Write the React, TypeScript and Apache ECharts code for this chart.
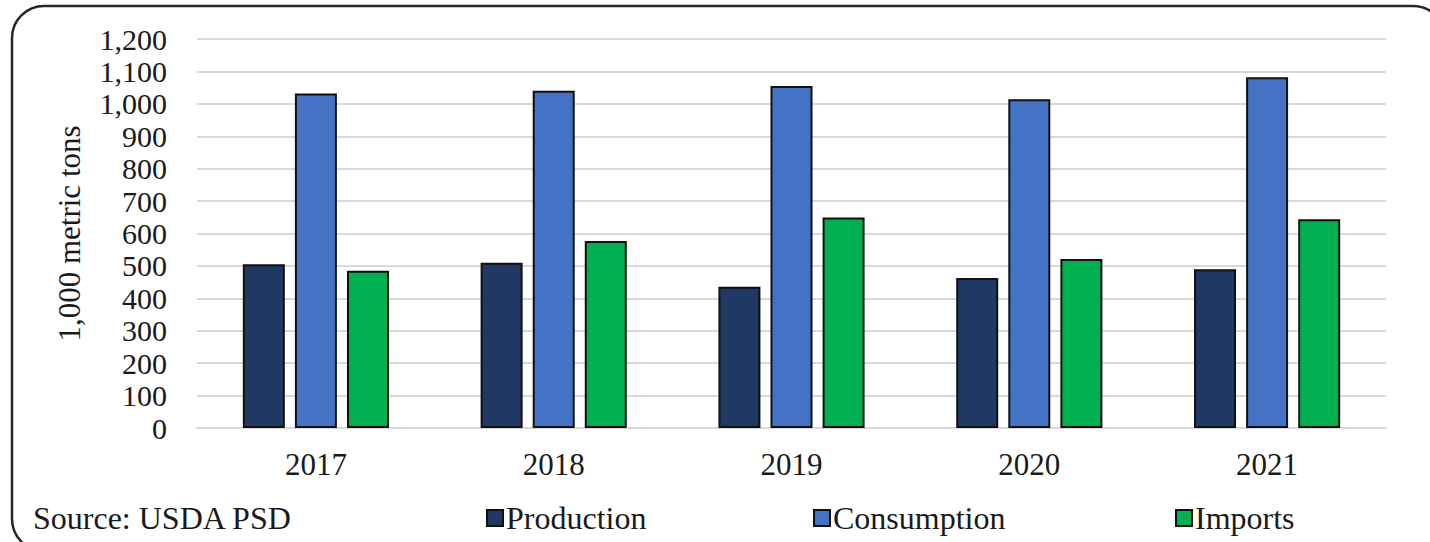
import React, { useEffect, useRef } from "react";
import * as echarts from "echarts";

const categories = ["2017", "2018", "2019", "2020", "2021"];
const production = [505, 510, 436, 463, 490];
const consumption = [1032, 1040, 1055, 1014, 1082];
const imports = [485, 577, 649, 521, 644];
const seriesNames = ["Production", "Consumption", "Imports"];
const seriesColors = ["#203864", "#4472C4", "#00B050"];
const yAxisName = "1,000 metric tons";
const sourceText = "Source: USDA PSD";

const FONT = "'Liberation Serif', 'Times New Roman', serif";

export default function App() {
  const ref = useRef<HTMLDivElement>(null);
  useEffect(() => {
    if (!ref.current) return;
    const chart = echarts.init(ref.current, undefined, { renderer: "svg" });
    const values = [production, consumption, imports];
    const legendLefts = [481, 808, 1170];
    chart.setOption({
      animation: false,
      backgroundColor: "#ffffff",
      textStyle: { fontFamily: FONT },
      grid: { left: 197, right: 44, top: 39, bottom: 114, containLabel: false },
      xAxis: {
        type: "category",
        data: categories,
        axisTick: { show: false },
        axisLine: { show: true, lineStyle: { color: "#d9d9d9", width: 2 } },
        axisLabel: { color: "#1a1a1a", fontSize: 31, fontFamily: FONT, margin: 21 },
      },
      yAxis: {
        type: "value",
        min: 0,
        max: 1200,
        interval: 100,
        name: yAxisName,
        nameLocation: "middle",
        nameGap: 112,
        nameRotate: 90,
        nameTextStyle: { color: "#1a1a1a", fontSize: 31, fontFamily: FONT },
        axisLine: { show: false },
        axisTick: { show: false },
        axisLabel: {
          color: "#1a1a1a",
          fontSize: 30,
          fontFamily: FONT,
          margin: 30,
          formatter: (v: number) => v.toLocaleString("en-US"),
        },
        splitLine: { lineStyle: { color: "#d9d9d9", width: 2 } },
      },
      legend: seriesNames.map((n, i) => ({
        data: [n],
        left: legendLefts[i],
        top: 497,
        itemWidth: 16,
        itemHeight: 16,
        itemGap: 5,
        icon: "rect",
        selectedMode: false,
        textStyle: { color: "#1a1a1a", fontSize: 32, fontFamily: FONT, padding: [0, 0, 0, -2] },
        itemStyle: { borderColor: "#111", borderWidth: 2 },
      })),
      graphic: [
        {
          type: "rect",
          shape: { x: 12, y: 6, width: 1433, height: 545, r: 32 },
          style: { fill: "none", stroke: "#262626", lineWidth: 2.5 },
          silent: true,
        },
        {
          type: "text",
          left: 33,
          top: 502,
          style: { text: sourceText, fontSize: 32, fontFamily: FONT, fill: "#1a1a1a" },
        },
      ],
      series: seriesNames.map((n, i) => ({
        name: n,
        type: "bar",
        data: values[i],
        barWidth: 42,
        barGap: "24%",
        itemStyle: { color: seriesColors[i], borderColor: "#111", borderWidth: 2 },
      })),
    });
    return () => chart.dispose();
  }, []);
  return (
    <div
      ref={ref}
      style={{ position: "absolute", left: 0, top: 0, width: 1430, height: 542 }}
    />
  );
}
